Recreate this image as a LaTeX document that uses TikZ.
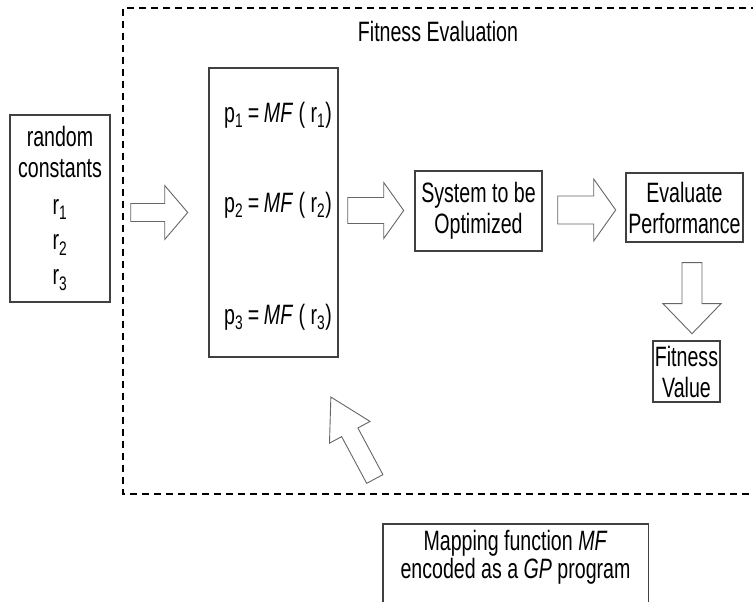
\documentclass[tikz,border=0pt]{standalone}
\usepackage{fontspec}
\setmainfont{Liberation Sans}[FakeStretch=0.70]
\usetikzlibrary{calc}

\tikzset{
  box/.style={draw=black!75, line width=1.4pt, inner sep=0pt, align=center},
  boxline/.style={draw=black!75, line width=1.4pt},
  arrowbody/.style={draw=black!60, line width=0.9pt, fill=white, line join=miter},
  evalframe/.style={draw=black, line width=2.2pt, dash pattern=on 7pt off 5pt}
}

% hollow block arrow: start, angle, length, half shaft, half head, head length
\newcommand{\hollowarrow}[6]{%
  \draw[arrowbody, shift={#1}, rotate=#2]
    (0,-#4) -- ({#3-#6},-#4) -- ({#3-#6},-#5) -- (#3,0)
    -- ({#3-#6},#5) -- ({#3-#6},#4) -- (0,#4) -- cycle;
}

\begin{document}
\begin{tikzpicture}[x=1pt, y=1pt, font=\fontsize{28}{31}\selectfont]
        \useasboundingbox (0,0) rectangle (753,602);

        % Dashed frame round the evaluation part
        \draw[evalframe] (770,594) -- (123,594) -- (123,108) -- (770,108);
        \node (title) at (438,570) {Fitness Evaluation};

        % Boxes
        \node[box, minimum width=100pt, minimum height=187pt] (rc) at (60,393.5)
            {random\\constants\\[6pt]r\textsubscript{1}\\[4pt]r\textsubscript{2}\\[4pt]r\textsubscript{3}};
        \node[box, minimum width=129pt, minimum height=289pt] (mf) at (273.5,389.5) {};
        \node (p1) at (278,487) {p\textsubscript{1}\,=\,\textit{MF}~( r\textsubscript{1})};
        \node (p2) at (278,397) {p\textsubscript{2}\,=\,\textit{MF}~( r\textsubscript{2})};
        \node (p3) at (278,285) {p\textsubscript{3}\,=\,\textit{MF}~( r\textsubscript{3})};
        \node[box, minimum width=127pt, minimum height=80pt] (sys) at (478.5,391) {System to be\\Optimized};
        \node[box, minimum width=117pt, minimum height=69pt] (eval) at (684.5,394.5) {Evaluate\\Performance};
        \node[box, minimum width=67pt, minimum height=61pt] (fit) at (686.5,230.5) {Fitness\\Value};

        % Mapping function box, open at the bottom
        \node[anchor=north, minimum width=265pt, inner xsep=0pt, inner ysep=5.6pt, align=center,
              font=\fontsize{28}{28}\selectfont] (map) at (515.5,78)
            {Mapping function \textit{MF}\\encoded as a \textit{GP} program};
        \draw[boxline] ([yshift=-40pt]map.south west) -- (map.north west)
            -- (map.north east) -- ([yshift=-40pt]map.south east);

        % Block arrows
        \hollowarrow{($(rc.east |- mf.west)+(20,0)$)}{0}{57}{9}{27}{23}
        \hollowarrow{($(mf.east)+(9,2)$)}{0}{56}{13}{28}{20}
        \hollowarrow{($(sys.east)+(15,1)$)}{0}{58}{14}{31}{22}
        \hollowarrow{($(eval.south)+(7.5,-20)$)}{-90}{71}{10}{29}{30}
        \hollowarrow{($(map.north west)+(-8,45)$)}{118.2}{93}{9.2}{23}{40}
    \end{tikzpicture}
\end{document}
